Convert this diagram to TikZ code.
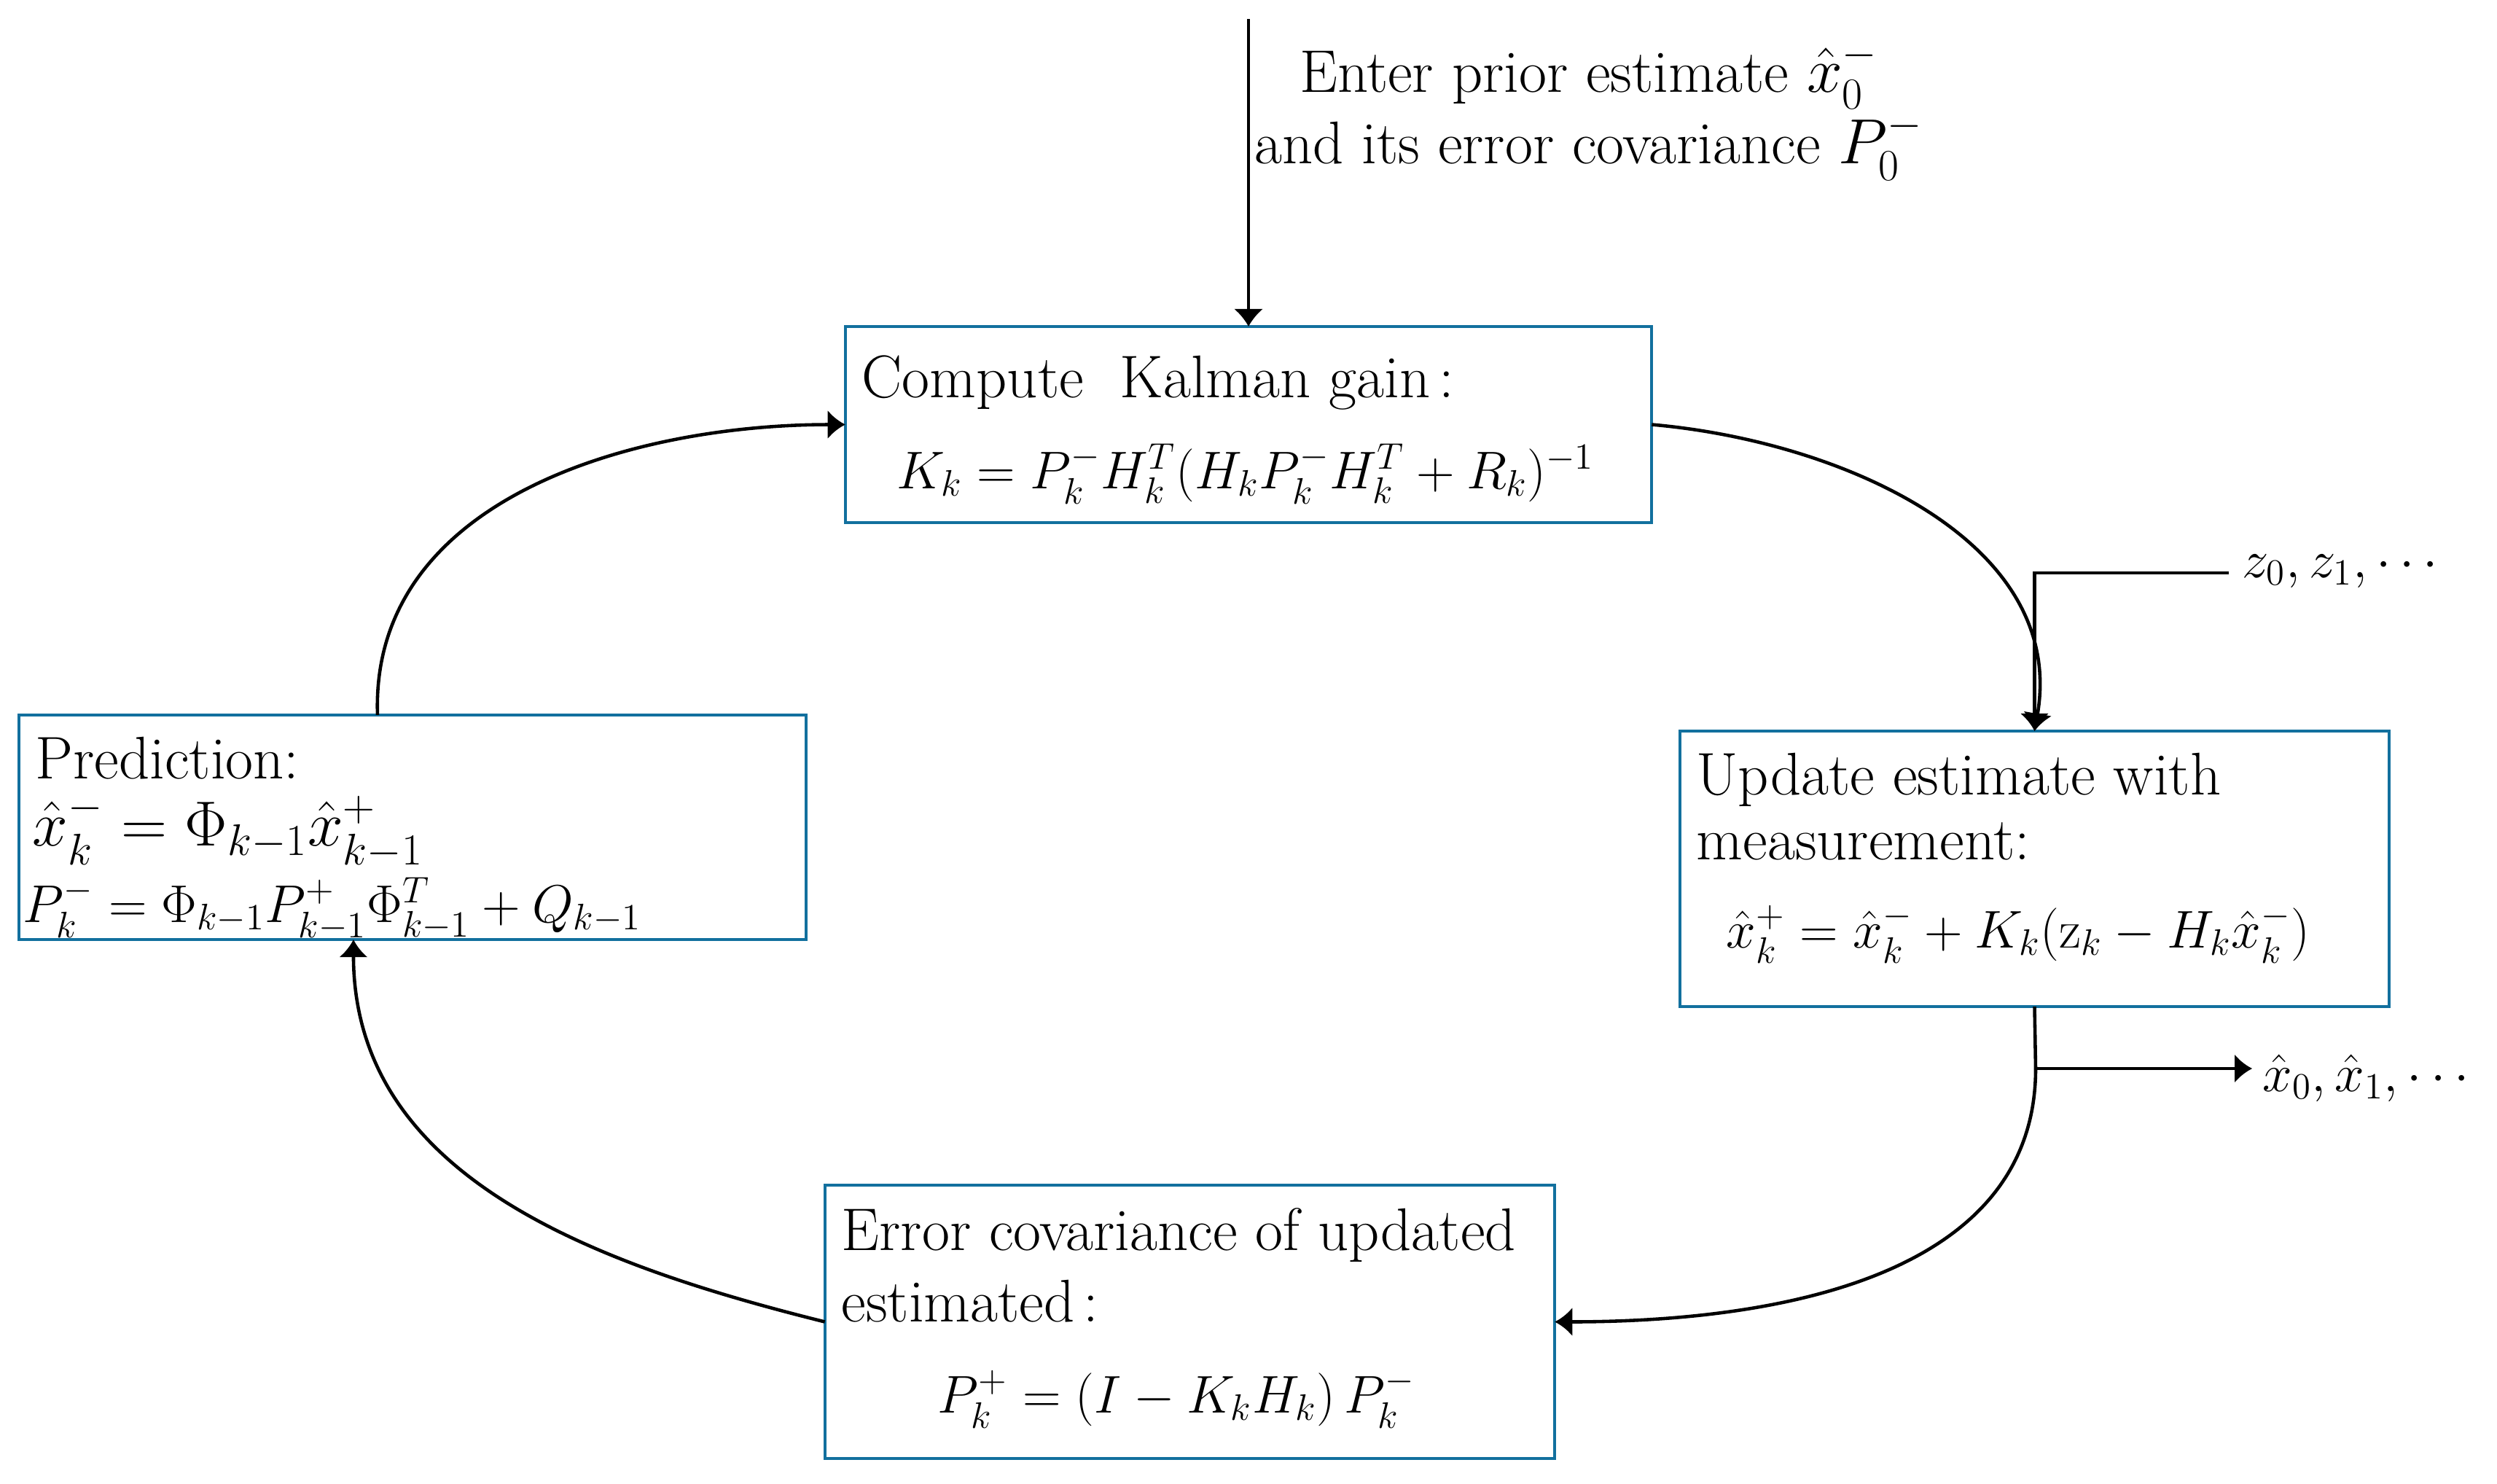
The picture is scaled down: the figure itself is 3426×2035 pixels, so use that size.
\documentclass[tikz,border=0pt]{standalone}
\usepackage{amsmath}
\usepackage{fontspec}
\usetikzlibrary{arrows.meta,calc}
\definecolor{boxblue}{RGB}{18,112,158}
\begin{document}
\begin{tikzpicture}[x=0.01cm,y=-0.01cm,
  box/.style={draw=boxblue,line width=1.2pt,rectangle,inner sep=0pt,outer sep=0pt},
  txt/.style={anchor=base west,inner sep=0pt,font=\fontsize{23.5}{28}\selectfont},
  eq/.style={anchor=base west,inner sep=0pt,font=\fontsize{20}{24}\selectfont},
  conn/.style={line width=1.3pt,-{Latex[length=0.24cm,width=0.4cm]}},
  plain/.style={line width=1.3pt},
]
\useasboundingbox (0,0) rectangle (3426,2035);

% boxes
\node[box,minimum width=11.06cm,minimum height=2.69cm] (kal) at (1713,582.5) {};
\node[box,minimum width=10.80cm,minimum height=3.08cm] (pred) at (566,1135) {};
\node[box,minimum width=9.73cm,minimum height=3.78cm] (upd) at (2791.5,1192) {};
\node[box,minimum width=10.01cm,minimum height=3.75cm] (err) at (1632.5,1813.5) {};

% texts (multi-line nodes: base = baseline of last line)
\node[anchor=base,inner sep=0pt,align=center,font=\fontsize{23.5}{25}\selectfont] (top) at (2180,224)
  {Enter prior estimate $\hat{x}_0^-$\\and its error covariance $P_0^-$};

\node[txt] (kal1) at (1182,545) {Compute\ \ Kalman gain\hspace{0.15em}:};
\node[eq] (kal2) at (1230,670) {$K_k=P_k^-H_k^T(H_kP_k^-H_k^T+R_k)^{-1}$};

\node[txt] (pred1) at (48,1068) {Prediction:};
\node[eq,font=\fontsize{25}{29}\selectfont] (pred2) at (44,1160) {$\hat{x}_k^-=\Phi_{k-1}\hat{x}_{k-1}^+$};
\node[eq,font=\fontsize{22}{26}\selectfont] (pred3) at (31,1265) {$P_k^-=\Phi_{k-1}P_{k-1}^+\Phi_{k-1}^T+Q_{k-1}$};

\node[txt,align=left,font=\fontsize{23.5}{25.2}\selectfont] (upd1) at (2327,1179) {Update estimate with\\measurement:};
\node[eq,font=\fontsize{21}{25}\selectfont] (upd3) at (2368,1300) {$\hat{x}_k^+=\hat{x}_k^-+K_k(\mathrm{z}_k-H_k\hat{x}_k^-)$};

\node[txt,align=left,font=\fontsize{23.5}{27.8}\selectfont] (err1) at (1154,1813) {Error covariance of updated\\estimated\hspace{0.15em}:};
\node[eq] (err3) at (1286,1938) {$P_k^+=(I-K_kH_k)\,P_k^-$};

\node[eq,font=\fontsize{21}{25}\selectfont] (zlab) at (3076,792) {$z_0,z_1,\cdots$};
\node[eq,font=\fontsize{21}{25}\selectfont] (xlab) at (3104,1497) {$\hat{x}_0,\hat{x}_1,\cdots$};

% connectors
\coordinate (topin) at (1713,26);
\draw[conn,line width=0.9pt] (topin) -- (kal.north);

\draw[conn] (kal.east) to[out=-5,in=80] (upd.north);

\coordinate (zin) at (3058,786);
\draw[conn] (zin) -| (upd.north);

\coordinate (br) at (2793,1466);
\coordinate (xout) at (3090,1466);
\draw[plain] (upd.south) -- (br);
\draw[conn] (br) to[out=-90,in=0] (err.east);
\draw[conn] (br) -- (xout);

\draw[conn] (err.west) to[out=166,in=-90] ([xshift=-0.81cm]pred.south);

\draw[conn] ([xshift=-0.48cm]pred.north) to[out=92,in=180] (kal.west);
\end{tikzpicture}
\end{document}
